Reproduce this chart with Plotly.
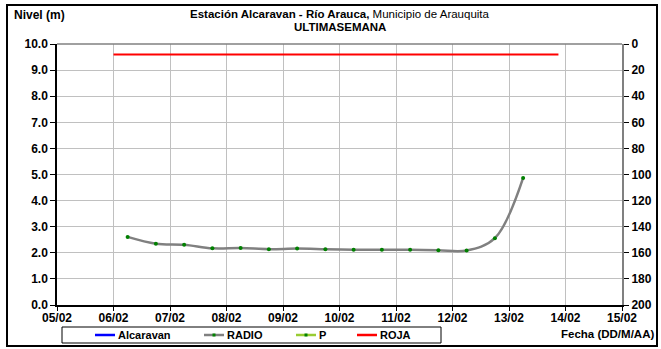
import plotly.graph_objects as go

# RADIO readings (every 12 h)
radio_t = ["2021-02-06 06:00", "2021-02-06 18:00", "2021-02-07 06:00", "2021-02-07 18:00",
           "2021-02-08 06:00", "2021-02-08 18:00", "2021-02-09 06:00", "2021-02-09 18:00",
           "2021-02-10 06:00", "2021-02-10 18:00", "2021-02-11 06:00", "2021-02-11 18:00",
           "2021-02-12 06:00", "2021-02-12 18:00", "2021-02-13 06:00"]
radio_nivel = [2.61, 2.35, 2.31, 2.17, 2.18, 2.14, 2.16, 2.14, 2.12, 2.12, 2.12, 2.10, 2.09, 2.56, 4.87]

# ROJA alert level
roja_t = ["2021-02-06 00:00", "2021-02-13 21:00"]
roja_nivel = [9.6, 9.6]

xrange = ["2021-02-05", "2021-02-15"]
series_names = ["Alcaravan", "RADIO", "P", "ROJA"]
series_colors = ["#0000ff", "#808080", "#99cc33", "#ff0000"]

W, H = 661, 349
L, R, T, B = 57, 39, 44, 44
PW, PH = W - L - R, H - T - B


def px(x):
    return (x - L) / PW


def py(y):
    return (H - B - y) / PH


fnt = dict(family="Liberation Sans, Arial", size=12, color="black")
bold = dict(family="Liberation Sans, Arial", size=12, color="black", weight="bold")
lfont = dict(family="Liberation Sans, Arial", size=11, color="black")

fig = go.Figure()
fig.add_trace(go.Scatter(x=radio_t, y=radio_nivel, name="RADIO", mode="lines+markers",
                         line=dict(color=series_colors[1], width=2.5, shape="spline", smoothing=1),
                         marker=dict(color="#008000", size=4)))
fig.add_trace(go.Scatter(x=roja_t, y=roja_nivel, name="ROJA", mode="lines",
                         line=dict(color=series_colors[3], width=2)))
# right axis carrier
fig.add_trace(go.Scatter(x=[None], y=[None], yaxis="y2", showlegend=False))

# hand-drawn legend box (Excel style)
shapes = [
    dict(type="line", xref="paper", yref="paper", x0=0, x1=1, y0=1, y1=1,
         line=dict(color="#808080", width=1.5)),
    dict(type="rect", xref="paper", yref="paper", x0=px(7), x1=px(657), y0=py(346), y1=py(5),
         line=dict(color="black", width=2)),
    dict(type="rect", xref="paper", yref="paper", x0=px(62), x1=px(441), y0=py(343), y1=py(327),
         line=dict(color="black", width=1), fillcolor="white"),
]
annotations = []
item_x = [95, 204, 296, 357]
for name, col, x0 in zip(series_names, series_colors, item_x):
    shapes.append(dict(type="line", xref="paper", yref="paper", x0=px(x0), x1=px(x0 + 20),
                       y0=py(335), y1=py(335), line=dict(color=col, width=2.5)))
    if name in ("RADIO", "P"):
        shapes.append(dict(type="rect", xref="paper", yref="paper",
                           x0=px(x0 + 8.5), x1=px(x0 + 11.5), y0=py(336.5), y1=py(333.5),
                           line=dict(width=0), fillcolor="#008000"))
    annotations.append(dict(text="<b>%s</b>" % name, xref="paper", yref="paper",
                            x=px(x0 + 21), y=py(335), xanchor="left", yanchor="middle",
                            showarrow=False, font=lfont))

tfont = dict(family="Liberation Sans, Arial", size=11.5, color="black")
annotations += [
    dict(text="<b>Nivel (m)</b>", xref="paper", yref="paper", x=px(12), y=py(15),
         xanchor="left", yanchor="middle", showarrow=False, font=fnt),
    dict(text="<b>Estación Alcaravan - Río Arauca,</b> Municipio de Arauquita",
         xref="paper", yref="paper", x=0.5, y=py(14.5), xanchor="center", yanchor="middle",
         showarrow=False, font=tfont),
    dict(text="<b>ULTIMASEMANA</b>",
         xref="paper", yref="paper", x=0.5, y=py(27.5), xanchor="center", yanchor="middle",
         showarrow=False, font=tfont),
    dict(text="<b>Fecha (DD/M/AA)</b>", xref="paper", yref="paper", x=px(656), y=py(334),
         xanchor="right", yanchor="middle", showarrow=False, font=tfont),
]

fig.update_layout(
    width=W, height=H,
    margin=dict(l=L, r=R, t=T, b=B, autoexpand=False),
    paper_bgcolor="white", plot_bgcolor="white",
    font=fnt,
    showlegend=False,
    xaxis=dict(type="date", range=xrange, dtick=86400000, tickformat="%d/%m",
               showgrid=True, gridcolor="#c0c0c0", gridwidth=1,
               showline=True, linecolor="black", linewidth=1.5,
               ticks="outside", ticklen=4, tickcolor="black", tickfont=bold,
               ticklabelstandoff=-3),
    yaxis=dict(range=[0, 10], dtick=1, tickformat=".1f",
               showgrid=True, gridcolor="#c0c0c0", gridwidth=1, zeroline=False,
               showline=True, linecolor="black", linewidth=1.5,
               ticks="outside", ticklen=5, tickcolor="black", tickfont=bold),
    yaxis2=dict(overlaying="y", side="right", range=[200, 0], dtick=20,
                showgrid=False, zeroline=False,
                showline=True, linecolor="#808080", linewidth=2,
                ticks="outside", ticklen=5, tickcolor="black", tickfont=bold),
    annotations=annotations,
    shapes=shapes,
)

fig.write_html("out.html", config={"displayModeBar": False},
               post_script="document.body.style.margin='0';")
